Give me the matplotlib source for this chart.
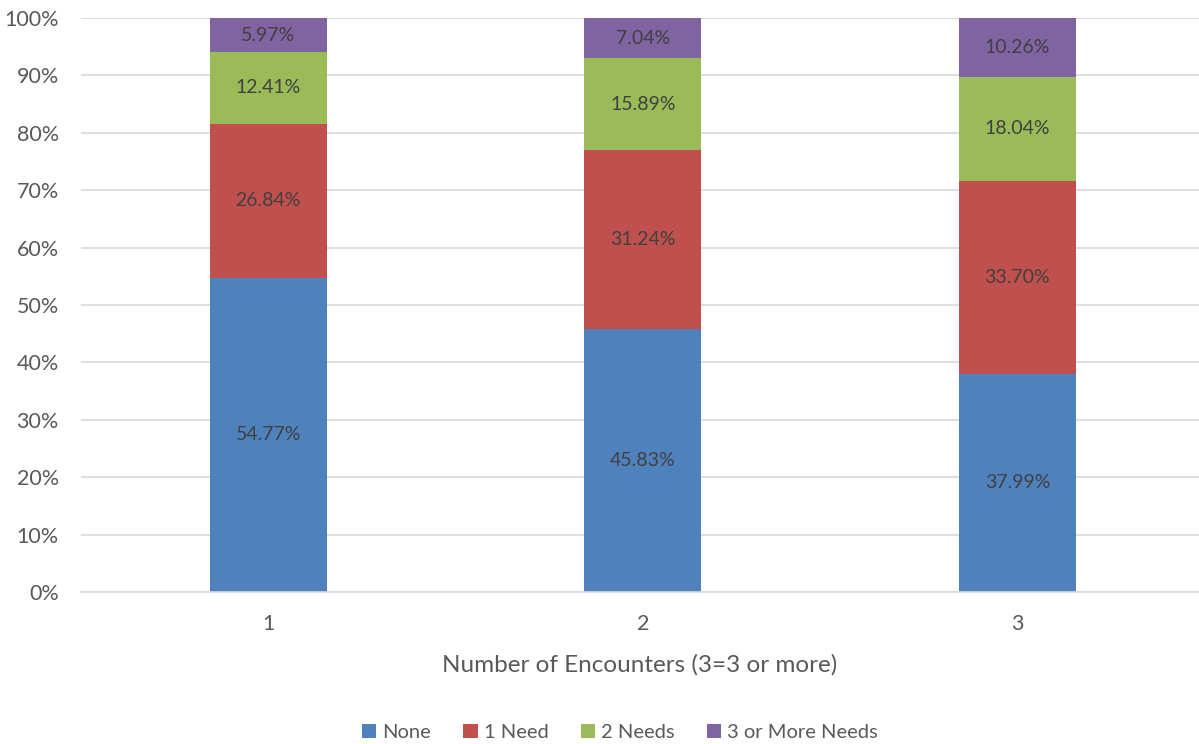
import matplotlib.pyplot as plt
import numpy as np

plt.rcParams['font.family'] = ['Lato', 'DejaVu Sans']

categories = ['1', '2', '3']
series_names = ['None', '1 Need', '2 Needs', '3 or More Needs']
none_vals = [54.77, 45.83, 37.99]
one_need = [26.84, 31.24, 33.70]
two_needs = [12.41, 15.89, 18.04]
three_plus = [5.97, 7.04, 10.26]

colors = ['#4F81BD', '#C0504D', '#9BBB59', '#8064A2']
text_grey = '#595959'

fig = plt.figure(figsize=(11.99, 7.44), dpi=100)
ax = fig.add_axes([0.0676, 0.2043, 0.9324, 0.7715])

x = np.arange(len(categories))
width = 0.312
bottom = np.zeros(len(categories))
for name, vals, col in zip(series_names, [none_vals, one_need, two_needs, three_plus], colors):
    vals = np.array(vals)
    ax.bar(x, vals, width, bottom=bottom, color=col, label=name, zorder=2)
    for xi, b, v in zip(x, bottom, vals):
        ax.text(xi, b + v / 2, f'{v:.2f}%', ha='center', va='center',
                fontsize=14, color='#404040', zorder=3)
    bottom += vals

ax.set_xlim(-0.5, 2.485)
ax.set_ylim(0, 100)
ax.set_yticks(np.arange(0, 101, 10))
ax.set_yticklabels([f'{t}%' for t in range(0, 101, 10)])
ax.set_xticks(x)
ax.set_xticklabels(categories)
ax.yaxis.grid(True, color='#D9D9D9', linewidth=1.2, zorder=0)
ax.set_axisbelow(True)
for s in ['top', 'right', 'left']:
    ax.spines[s].set_visible(False)
ax.spines['bottom'].set_color('#D9D9D9')
ax.spines['bottom'].set_linewidth(1.2)
ax.tick_params(axis='both', length=0, labelsize=15.5, colors=text_grey)
ax.tick_params(axis='x', pad=16)
ax.tick_params(axis='y', pad=16)

ax.set_xlabel('Number of Encounters (3=3 or more)', fontsize=17.5, color=text_grey, labelpad=14)

fig.legend(loc='center', bbox_to_anchor=(0.517, 0.016), ncol=4, frameon=False,
           fontsize=14.5, labelcolor=text_grey, handlelength=0.7, handleheight=0.7,
           handletextpad=0.3, columnspacing=1.6)

fig.savefig('out.png', dpi=100)
